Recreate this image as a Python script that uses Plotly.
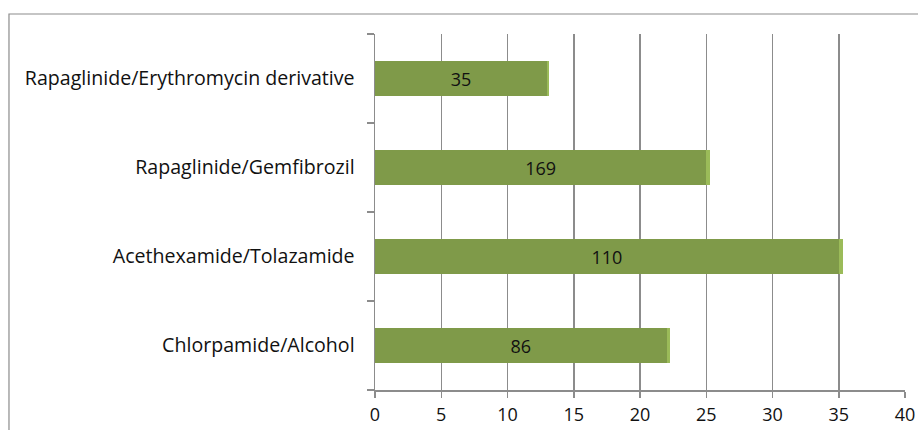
import plotly.graph_objects as go

categories = ["Chlorpamide/Alcohol", "Acethexamide/Tolazamide",
              "Rapaglinide/Gemfibrozil", "Rapaglinide/Erythromycin derivative"]
main_values = [22.0, 35.0, 25.0, 13.0]
edge_values = [0.25, 0.35, 0.3, 0.15]
bar_labels = ["86", "110", "169", "35"]
x_ticks = [0, 5, 10, 15, 20, 25, 30, 35, 40]

FONT = "Open Sans, Liberation Sans, sans-serif"

fig = go.Figure()
fig.add_trace(go.Bar(
    y=categories, x=main_values, orientation="h",
    marker=dict(color="#7F9A49", line=dict(width=0)),
    text=bar_labels, textposition="inside", insidetextanchor="middle",
    textfont=dict(family=FONT, size=18, color="#111111"),
    hoverinfo="skip", showlegend=False,
))
fig.add_trace(go.Bar(
    y=categories, x=edge_values, orientation="h",
    marker=dict(color="#9BBB59", line=dict(width=0)),
    hoverinfo="skip", showlegend=False,
))

fig.update_layout(
    width=918, height=430,
    margin=dict(l=375, r=13, t=34, b=40, autoexpand=False),
    barmode="stack", bargap=0.615,
    plot_bgcolor="white", paper_bgcolor="white",
    font=dict(family=FONT, size=18, color="#111111"),
    xaxis=dict(
        range=[0, 40], tickvals=x_ticks, ticktext=[str(v) for v in x_ticks],
        showgrid=True, gridcolor="#8C8C8C", gridwidth=1.5,
        showline=True, linecolor="#8C8C8C", linewidth=1.5,
        ticks="outside", ticklen=6, tickcolor="#8C8C8C", tickwidth=1.5,
        zeroline=False, fixedrange=True, automargin=False, ticklabelstandoff=2,
        tickfont=dict(family=FONT, size=18, color="#111111"),
    ),
    yaxis=dict(
        type="category", categoryorder="array", categoryarray=categories,
        tickson="boundaries", ticks="outside", ticklen=7,
        tickcolor="#8C8C8C", tickwidth=1.5,
        showline=True, linecolor="#8C8C8C", linewidth=1.5,
        showgrid=False, fixedrange=True, ticklabelstandoff=15, automargin=False,
        tickfont=dict(family=FONT, size=19.6, color="#111111"),
    ),
    shapes=[dict(type="rect", xref="paper", yref="paper",
                 x0=-0.6906, x1=1.2, y0=-0.3, y1=1.0562,
                 line=dict(color="#8C8C8C", width=1.2), layer="below")],
)

fig.write_html(
    "out.html",
    config={"displayModeBar": False, "staticPlot": True},
    post_script="document.body.style.margin='0';document.body.style.overflow='hidden';",
)
